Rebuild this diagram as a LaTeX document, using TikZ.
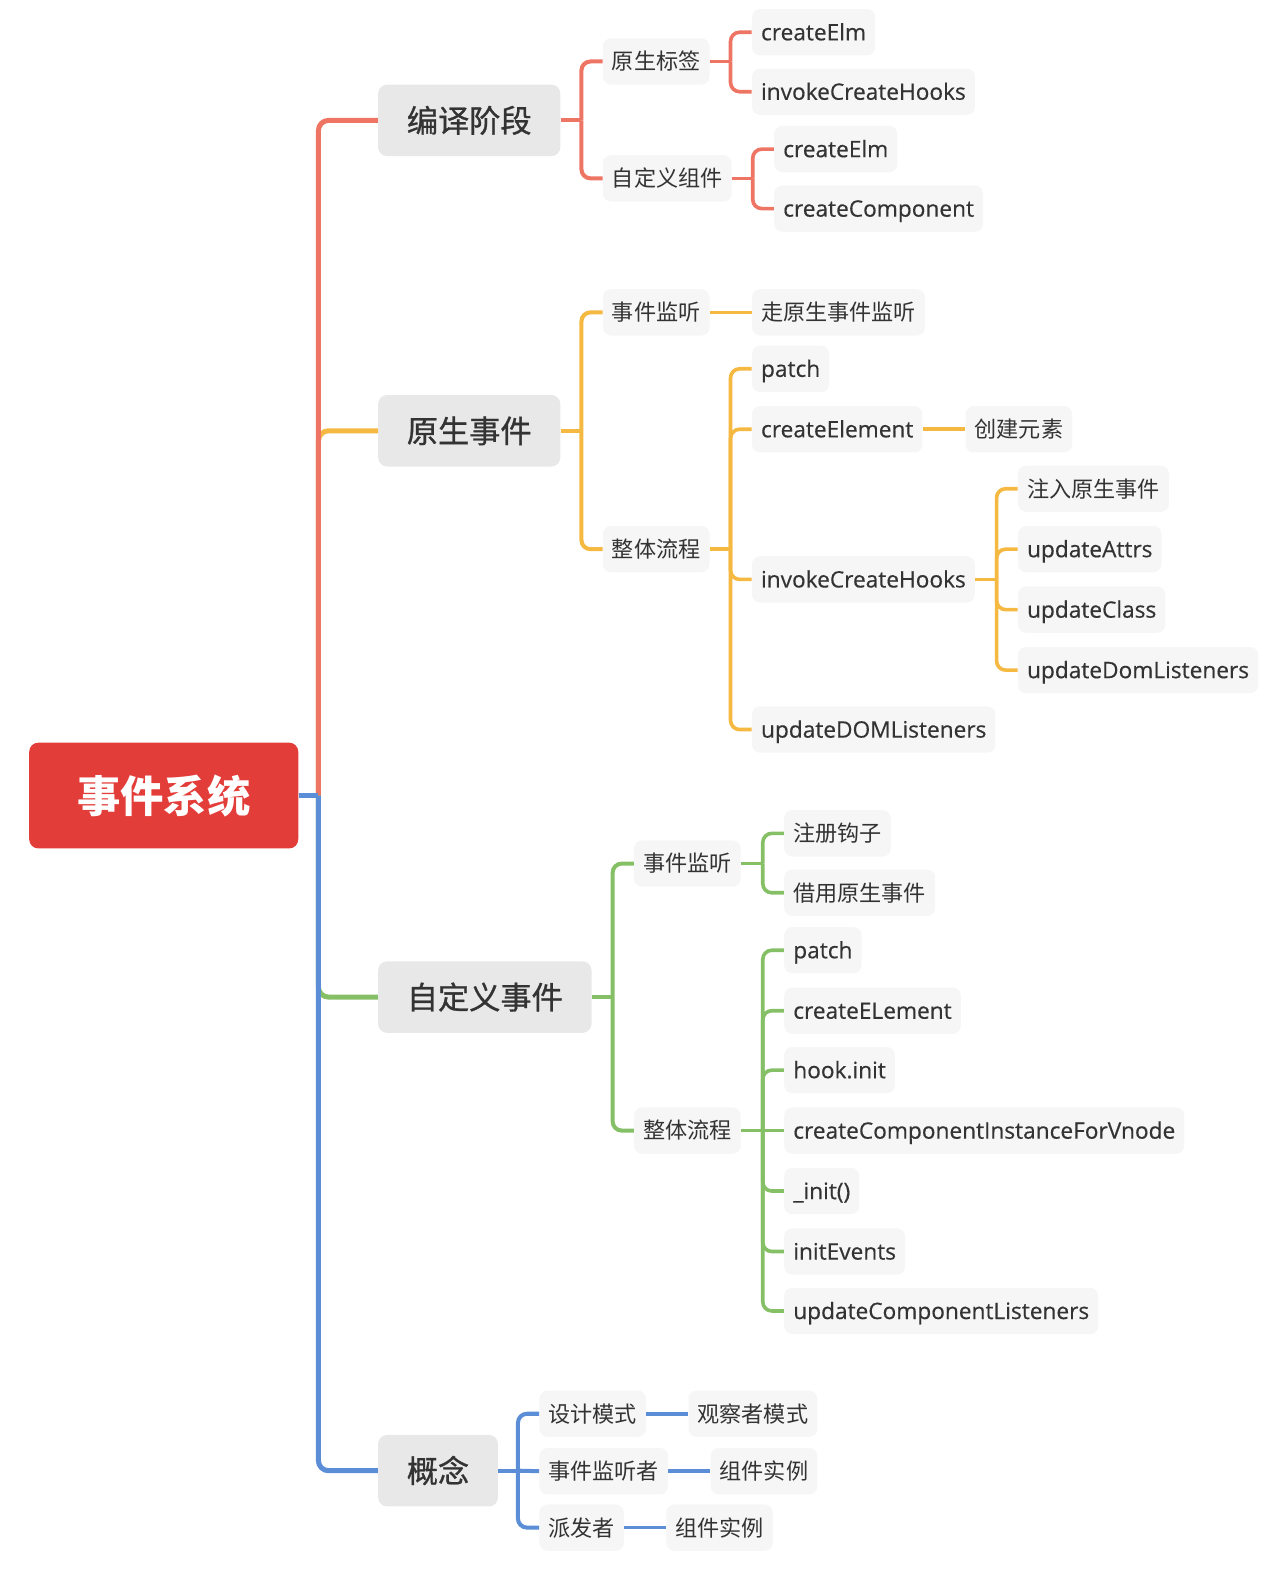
\documentclass[tikz,border=0pt]{standalone}
\usepackage{fontspec}
\newfontfamily\cjk{Noto Sans CJK SC}
\newfontfamily\cjkm[RawFeature={embolden=0.9}]{Noto Sans CJK SC}
\newfontfamily\lat[RawFeature={embolden=0.4}]{Open Sans}
\newlength\pxu
\setlength\pxu{0.7559pt}
\definecolor{rootred}{HTML}{E33D3A}
\definecolor{cred}{HTML}{EE7564}
\definecolor{corange}{HTML}{F5B942}
\definecolor{cgreen}{HTML}{85C066}
\definecolor{cblue}{HTML}{5B8ED6}
\definecolor{gone}{HTML}{E8E8E8}
\definecolor{gtwo}{HTML}{F6F6F6}
\definecolor{txt}{HTML}{333333}
\tikzset{
  rootbox/.style={fill=rootred, rounded corners=9\pxu, minimum width=267\pxu, minimum height=105\pxu, text=white, inner sep=0pt, font=\cjk\bfseries\fontsize{32.5}{34}\selectfont},
  lone/.style={fill=gone, rounded corners=9\pxu, minimum height=71\pxu, inner xsep=28.5\pxu, inner ysep=0pt, anchor=west, text=txt, text height=20.6pt, text depth=2.8pt, font=\cjkm\fontsize{23.4}{25}\selectfont},
  ltwo/.style={fill=gtwo, rounded corners=8\pxu, minimum height=46\pxu, inner xsep=9\pxu, inner ysep=0pt, anchor=west, text=txt},
  zh/.style={ltwo, text height=14.6pt, text depth=2pt, font=\cjk\fontsize{16.6}{18}\selectfont},
  en/.style={ltwo, text height=15.3pt, text depth=3.2pt, font=\lat\fontsize{17}{18}\selectfont},
  trunkline/.style={line width=5\pxu, rounded corners=10\pxu},
  subline/.style={line width=4\pxu},
  leafline/.style={line width=3.6\pxu},
}
% parent stub to bracket
\newcommand\stub[3]{\draw[#1] (#2.east) -- (#2.east -| #3,0);}
% bracket to child
\newcommand\kid[4]{\draw[#1, rounded corners=9\pxu] (#2.east -| #3,0) -- (#3,0 |- #4.west) -- (#4.west);}
\newcommand\direct[3]{\draw[#1] (#2.east) -- (#3.west);}
\begin{document}
\begin{tikzpicture}[x=0.7559pt, y=-0.7559pt]
\useasboundingbox (0,0) rectangle (1272,1568);

% root
\node[rootbox] (root) at (162.5,789.5) {事件系统};

% level 1
\node[lone] (l1) at (375,119.5) {编译阶段};
\node[lone] (l2) at (375,427.5) {原生事件};
\node[lone] (l3) at (375,989.5) {自定义事件};
\node[lone] (l4) at (375,1459.5) {概念};

% red branch
\node[zh] (a1) at (598,61) {原生标签};
\node[zh] (a2) at (598,177) {自定义组件};
\node[en] (a11) at (746,32) {createElm};
\node[en] (a12) at (746,91) {invokeCreateHooks};
\node[en] (a21) at (768,148) {createElm};
\node[en] (a22) at (768,207) {createComponent};

% orange branch
\node[zh] (b1) at (598,310) {事件监听};
\node[zh] (b11) at (746,310) {走原生事件监听};
\node[zh] (b2) at (598,545) {整体流程};
\node[en] (b21) at (746,366) {patch};
\node[en] (b22) at (746,426) {createElement};
\node[zh] (b221) at (958,426) {创建元素};
\node[en] (b23) at (746,575) {invokeCreateHooks};
\node[zh] (b231) at (1010,485) {注入原生事件};
\node[en] (b232) at (1010,545) {updateAttrs};
\node[en] (b233) at (1010,605) {updateClass};
\node[en] (b234) at (1010,665) {updateDomListeners};
\node[en] (b24) at (746,724) {updateDOMListeners};

% green branch
\node[zh] (c1) at (629,857) {事件监听};
\node[zh] (c11) at (778,827) {注册钩子};
\node[zh] (c12) at (778,886) {借用原生事件};
\node[zh] (c2) at (629,1122) {整体流程};
\node[en] (c21) at (778,943) {patch};
\node[en] (c22) at (778,1003) {createELement};
\node[en] (c23) at (778,1062) {hook.init};
\node[en] (c24) at (778,1122) {createComponentInstanceForVnode};
\node[en] (c25) at (778,1182) {\_init()};
\node[en] (c26) at (778,1242) {initEvents};
\node[en] (c27) at (778,1301) {updateComponentListeners};

% blue branch
\node[zh] (d1) at (535,1403) {设计模式};
\node[zh] (d11) at (683,1403) {观察者模式};
\node[zh] (d2) at (535,1460) {事件监听者};
\node[zh] (d21) at (705,1460) {组件实例};
\node[zh] (d3) at (535,1516) {派发者};
\node[zh] (d31) at (661,1516) {组件实例};

% trunk
\coordinate (tr) at (316,789.5);
\draw[trunkline, draw=corange] (tr) -- (tr |- l2.west) -- (l2.west);
\draw[trunkline, draw=cred] (tr) -- (tr |- l1.west) -- (l1.west);
\draw[trunkline, draw=cgreen] (tr) -- (tr |- l3.west) -- (l3.west);
\draw[trunkline, draw=cblue] (tr) -- (tr |- l4.west) -- (l4.west);
\draw[line width=5\pxu, draw=cblue] (root.east) -- (tr);

% red connectors
\stub{subline,draw=cred}{l1}{577}
\kid{subline,draw=cred}{l1}{577}{a1}
\kid{subline,draw=cred}{l1}{577}{a2}
\stub{leafline,draw=cred}{a1}{725}
\kid{leafline,draw=cred}{a1}{725}{a11}
\kid{leafline,draw=cred}{a1}{725}{a12}
\stub{leafline,draw=cred}{a2}{747}
\kid{leafline,draw=cred}{a2}{747}{a21}
\kid{leafline,draw=cred}{a2}{747}{a22}

% orange connectors
\stub{subline,draw=corange}{l2}{577}
\kid{subline,draw=corange}{l2}{577}{b1}
\kid{subline,draw=corange}{l2}{577}{b2}
\direct{leafline,draw=corange}{b1}{b11}
\stub{leafline,draw=corange}{b2}{725}
\kid{leafline,draw=corange}{b2}{725}{b21}
\kid{leafline,draw=corange}{b2}{725}{b22}
\kid{leafline,draw=corange}{b2}{725}{b23}
\kid{leafline,draw=corange}{b2}{725}{b24}
\direct{leafline,draw=corange}{b22}{b221}
\stub{leafline,draw=corange}{b23}{989}
\kid{leafline,draw=corange}{b23}{989}{b231}
\kid{leafline,draw=corange}{b23}{989}{b232}
\kid{leafline,draw=corange}{b23}{989}{b233}
\kid{leafline,draw=corange}{b23}{989}{b234}

% green connectors
\stub{subline,draw=cgreen}{l3}{608}
\kid{subline,draw=cgreen}{l3}{608}{c1}
\kid{subline,draw=cgreen}{l3}{608}{c2}
\stub{leafline,draw=cgreen}{c1}{757}
\kid{leafline,draw=cgreen}{c1}{757}{c11}
\kid{leafline,draw=cgreen}{c1}{757}{c12}
\stub{leafline,draw=cgreen}{c2}{757}
\kid{leafline,draw=cgreen}{c2}{757}{c21}
\kid{leafline,draw=cgreen}{c2}{757}{c22}
\kid{leafline,draw=cgreen}{c2}{757}{c23}
\draw[leafline,draw=cgreen] (c2.east -| 757,0) -- (c24.west);
\kid{leafline,draw=cgreen}{c2}{757}{c25}
\kid{leafline,draw=cgreen}{c2}{757}{c26}
\kid{leafline,draw=cgreen}{c2}{757}{c27}

% blue connectors
\stub{subline,draw=cblue}{l4}{514}
\kid{subline,draw=cblue}{l4}{514}{d1}
\draw[subline,draw=cblue] (l4.east -| 514,0) -- (d2.west);
\kid{subline,draw=cblue}{l4}{514}{d3}
\direct{leafline,draw=cblue}{d1}{d11}
\direct{leafline,draw=cblue}{d2}{d21}
\direct{leafline,draw=cblue}{d3}{d31}
\end{tikzpicture}
\end{document}
